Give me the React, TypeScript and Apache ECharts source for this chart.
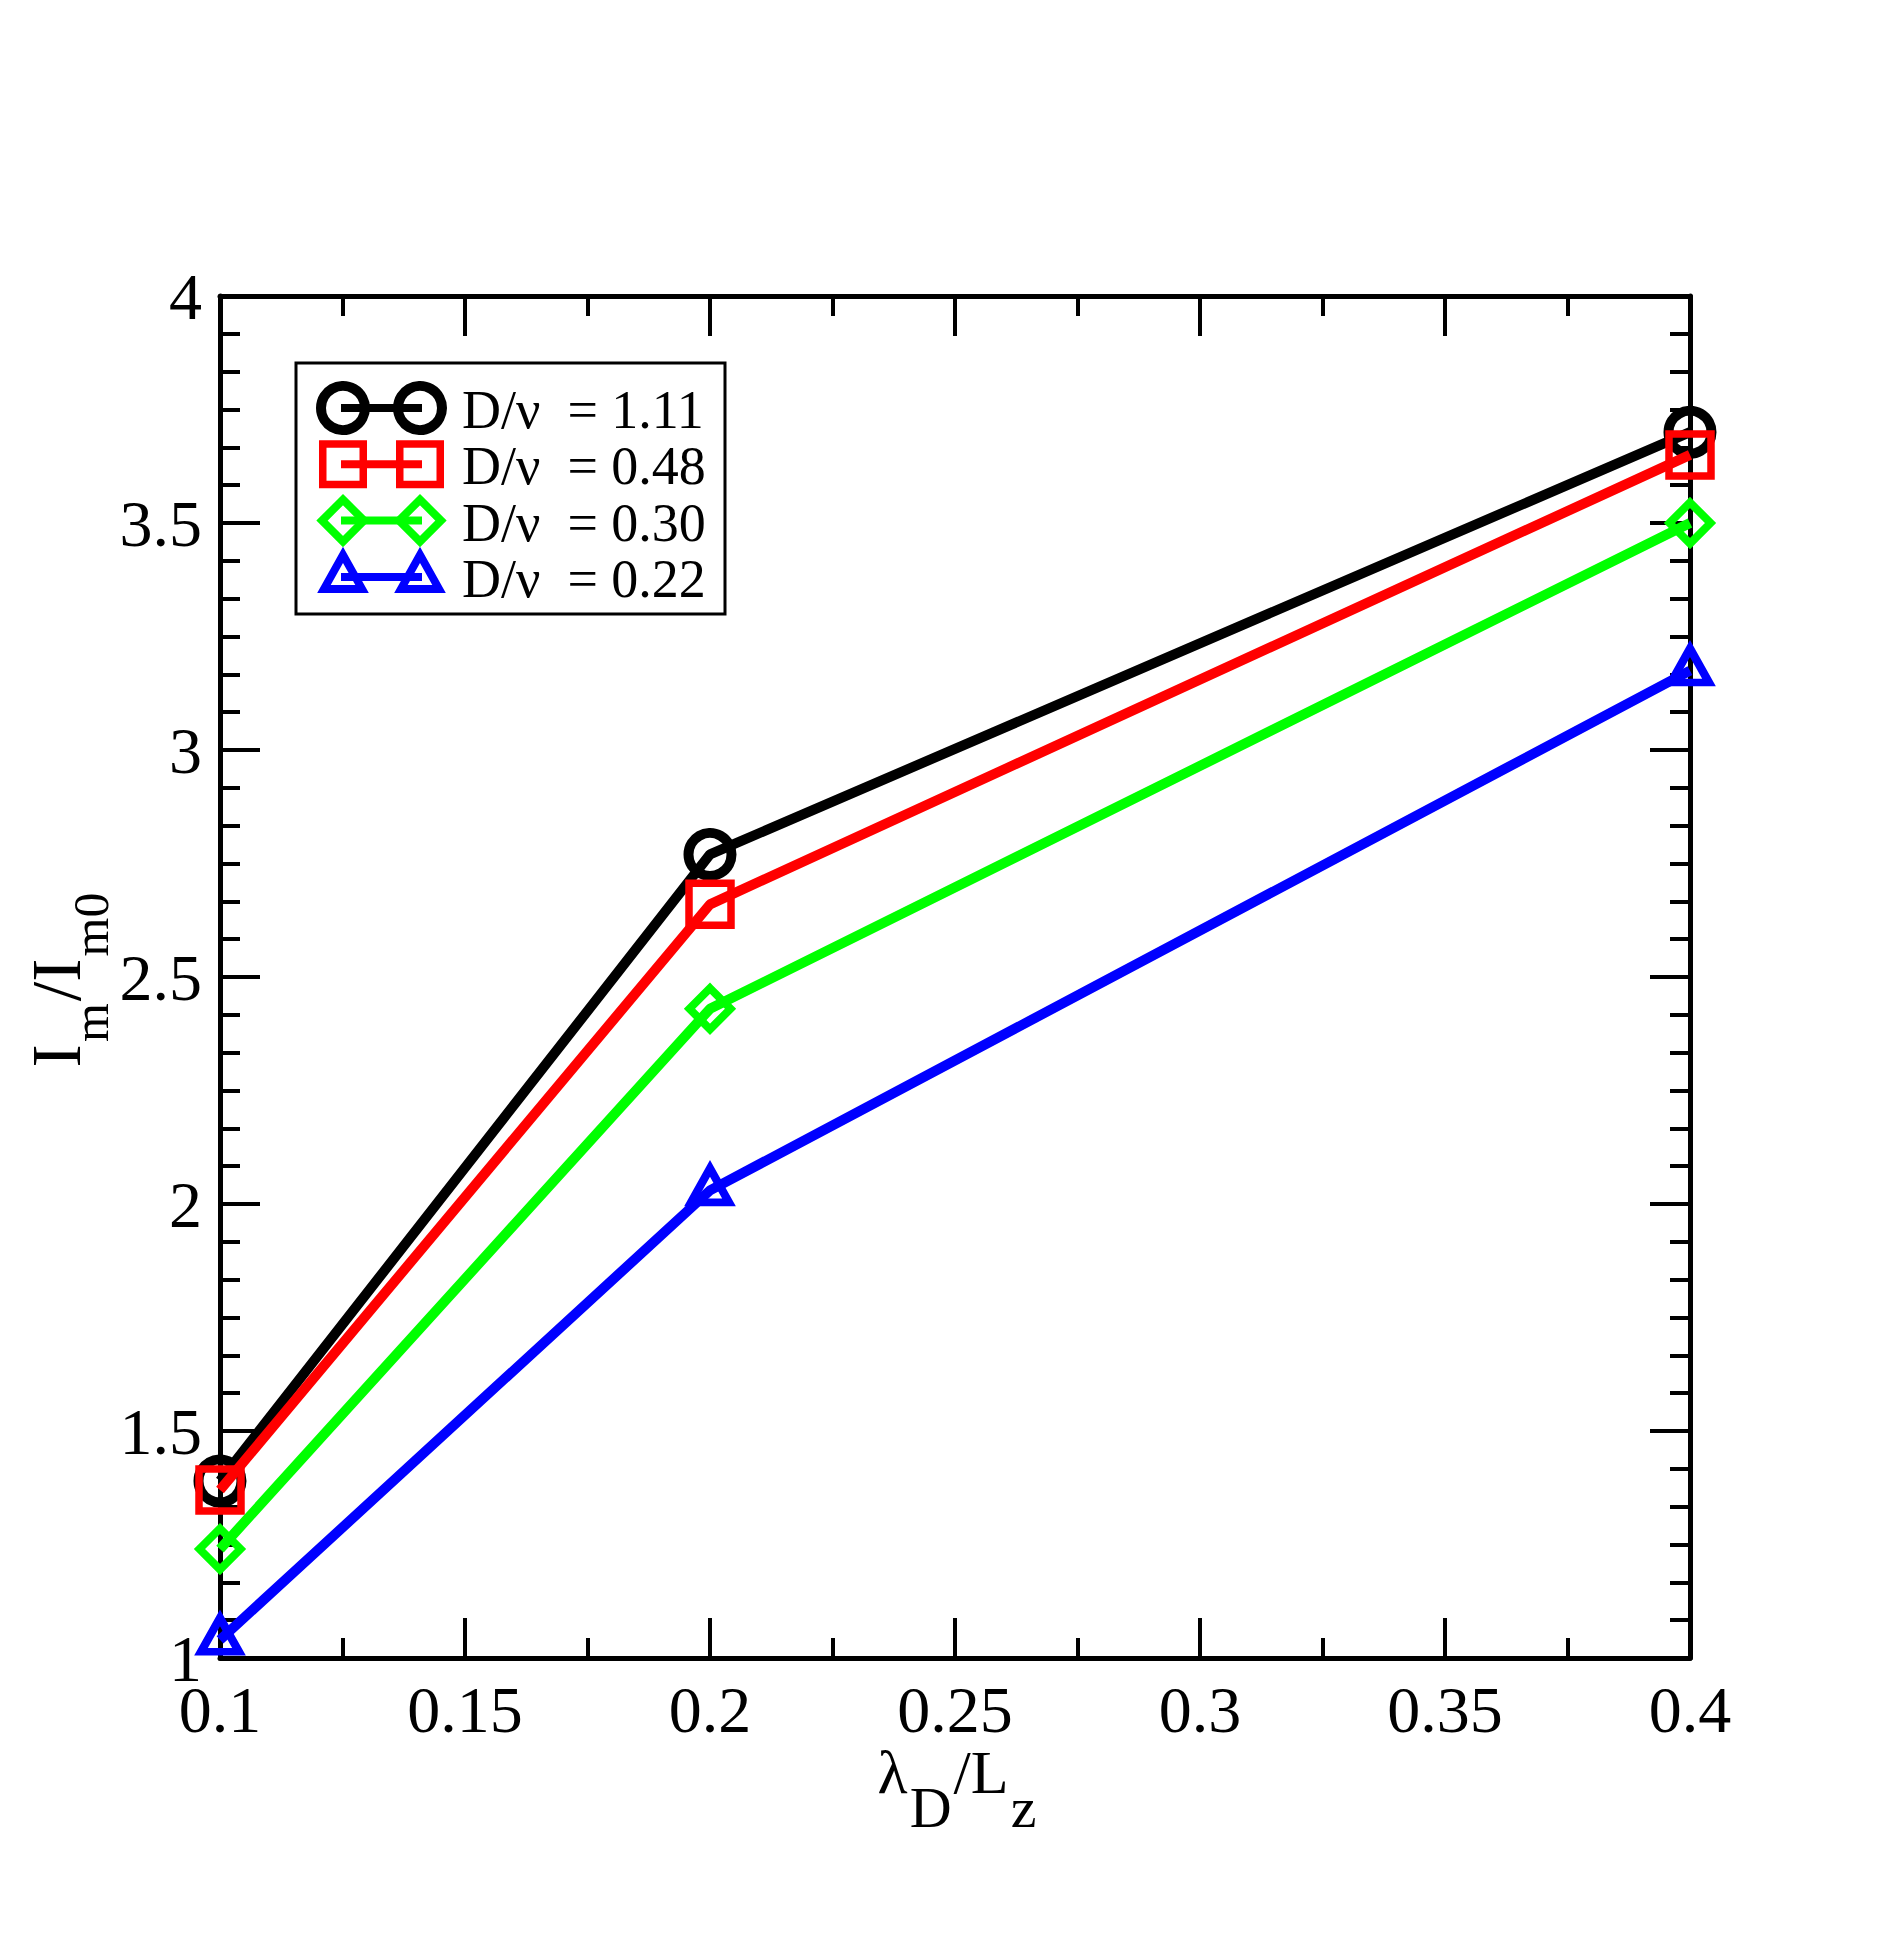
import React, { useEffect, useRef } from 'react';
import * as echarts from 'echarts';

const xValues = [0.1, 0.2, 0.4];
const seriesNames = ['D/ν  = 1.11', 'D/ν  = 0.48', 'D/ν  = 0.30', 'D/ν  = 0.22'];
const blackValues = [1.39, 2.77, 3.7];
const redValues = [1.37, 2.66, 3.65];
const greenValues = [1.24, 2.43, 3.5];
const blueValues = [1.04, 2.03, 3.175];
const xTickLabels = ['0.1', '0.15', '0.2', '0.25', '0.3', '0.35', '0.4'];
const yTickLabels = ['1', '1.5', '2', '2.5', '3', '3.5', '4'];
const xTitleParts = [
  { t: 'λ', sub: false },
  { t: 'D', sub: true },
  { t: '/L', sub: false },
  { t: 'z', sub: true },
];
const yTitleParts = [
  { t: 'I', sub: false },
  { t: 'm', sub: true },
  { t: '/I', sub: false },
  { t: 'm0', sub: true },
];

const X_MIN = 0.1;
const X_MAX = 0.4;
const X_STEP = 0.05;
const Y_MIN = 1;
const Y_MAX = 4;
const Y_STEP = 0.5;

const FONT = "'Liberation Serif', 'Times New Roman', serif";
const COLORS = ['#000000', '#ff0000', '#00ff00', '#0000ff'];
const SYMBOLS = ['circle', 'rect', 'diamond', 'triangle'];
const SYMBOL_SIZES: any[] = [43, 42, 41, [38, 34]];
const SYMBOL_BORDERS = [10, 7.5, 8, 8];
const SYMBOL_OFFSETS: any[] = [[0, 0], [0, 0], [0, 0], [0, -5]];
const CENTRAL = 0.3375; // baseline offset below the em centre, as a fraction of font size
const PART_GAP = 2;

function measure(text: string, fs: number) {
  const c = document.createElement('canvas').getContext('2d');
  if (!c) return text.length * fs * 0.5;
  c.font = `${fs}px 'Liberation Serif'`;
  return c.measureText(text).width;
}

function titleChildren(parts: { t: string; sub: boolean }[], mainFs: number, subFs: number, drop: number) {
  const widths = parts.map((p) => measure(p.t, p.sub ? subFs : mainFs));
  const total = widths.reduce((a, b) => a + b, 0) + PART_GAP * (parts.length - 1);
  let x = -total / 2;
  const subCenter = CENTRAL * mainFs + drop - CENTRAL * subFs;
  return parts.map((p, i) => {
    const el = {
      type: 'text',
      style: {
        text: p.t,
        x,
        y: p.sub ? subCenter : 0,
        fontSize: p.sub ? subFs : mainFs,
        fontFamily: FONT,
        fill: '#000',
        align: 'left',
        verticalAlign: 'middle',
      },
    };
    x += widths[i] + PART_GAP;
    return el;
  });
}

function legendMarker(kind: string, cx: number, cy: number, color: string) {
  const idx = SYMBOLS.indexOf(kind);
  const st = { fill: 'none', stroke: color, lineWidth: SYMBOL_BORDERS[idx], lineJoin: 'miter' };
  if (kind === 'circle') return { type: 'circle', shape: { cx, cy, r: 22 }, style: st, z: 101 };
  if (kind === 'rect')
    return { type: 'rect', shape: { x: cx - 20.25, y: cy - 20.25, width: 40.5, height: 40.5 }, style: st, z: 101 };
  if (kind === 'diamond')
    return {
      type: 'polygon',
      shape: { points: [[cx, cy - 21], [cx + 21, cy], [cx, cy + 21], [cx - 21, cy]] },
      style: st,
      z: 101,
    };
  return {
    type: 'polygon',
    shape: { points: [[cx, cy - 22], [cx + 19, cy + 12], [cx - 19, cy + 12]] },
    style: st,
    z: 101,
  };
}

export default function App() {
  const ref = useRef<HTMLDivElement>(null);
  useEffect(() => {
    if (!ref.current) return;
    const chart = echarts.init(ref.current, null, { renderer: 'svg' });
    const allValues = [blackValues, redValues, greenValues, blueValues];

    const axisCommon = {
      axisLine: { show: true, onZero: false, lineStyle: { color: '#000', width: 5 } },
      axisTick: { show: true, inside: true, length: 40, lineStyle: { color: '#000', width: 4 } },
      splitLine: { show: false },
      minorSplitLine: { show: false },
    };
    const xFmt = (v: number) => xTickLabels[Math.round((v - X_MIN) / X_STEP)] ?? '';
    const yFmt = (v: number) => yTickLabels[Math.round((v - Y_MIN) / Y_STEP)] ?? '';
    const labelStyle = { color: '#000', fontFamily: FONT, fontSize: 66, margin: 18 };

    const xBase = {
      type: 'value',
      min: X_MIN,
      max: X_MAX,
      interval: X_STEP,
      ...axisCommon,
      minorTick: { show: true, splitNumber: 2, length: 20, lineStyle: { color: '#000', width: 4 } },
    };
    const yBase = {
      type: 'value',
      min: Y_MIN,
      max: Y_MAX,
      interval: Y_STEP,
      ...axisCommon,
      minorTick: { show: true, splitNumber: 6, length: 20, lineStyle: { color: '#000', width: 4 } },
    };

    const graphicEls: any[] = [
      {
        type: 'rect',
        shape: { x: 296, y: 363, width: 429, height: 251 },
        style: { fill: '#fff', stroke: '#000', lineWidth: 3 },
        z: 100,
      },
    ];
    seriesNames.forEach((name, i) => {
      const cy = 408 + 56.3 * i;
      graphicEls.push({
        type: 'line',
        shape: { x1: 341, y1: cy, x2: 422, y2: cy },
        style: { stroke: COLORS[i], lineWidth: 8 },
        z: 100,
      });
      graphicEls.push(legendMarker(SYMBOLS[i], 343, cy, COLORS[i]));
      graphicEls.push(legendMarker(SYMBOLS[i], 420, cy, COLORS[i]));
      graphicEls.push({
        type: 'text',
        style: { text: name, x: 462, y: cy + 2, fontSize: 54, fontFamily: FONT, fill: '#000', verticalAlign: 'middle' },
        z: 101,
      });
    });

    graphicEls.push({
      type: 'group',
      x: 957,
      y: 1793 - CENTRAL * 62,
      children: titleChildren(xTitleParts, 62, 58, 34),
      z: 101,
    });
    graphicEls.push({
      type: 'group',
      x: 80 - CENTRAL * 70,
      y: 980,
      rotation: Math.PI / 2,
      children: titleChildren(yTitleParts, 70, 50, 28),
      z: 101,
    });

    const option: any = {
      animation: false,
      backgroundColor: '#ffffff',
      grid: { left: 220, right: 214, top: 296, bottom: 296, outerBoundsMode: 'none', containLabel: false },
      xAxis: [
        { ...xBase, position: 'bottom', axisLabel: { ...labelStyle, formatter: xFmt } },
        { ...xBase, position: 'top', axisLabel: { show: false } },
      ],
      yAxis: [
        { ...yBase, position: 'left', axisLabel: { ...labelStyle, formatter: yFmt } },
        { ...yBase, position: 'right', axisLabel: { show: false } },
      ],
      series: seriesNames.map((name, i) => ({
        type: 'line',
        name,
        xAxisIndex: 0,
        yAxisIndex: 0,
        data: xValues.map((x, j) => [x, allValues[i][j]]),
        symbol: SYMBOLS[i],
        symbolSize: SYMBOL_SIZES[i],
        symbolOffset: SYMBOL_OFFSETS[i],
        showSymbol: true,
        clip: false,
        lineStyle: { color: COLORS[i], width: 10 },
        itemStyle: {
          color: 'rgba(255,255,255,0)',
          borderColor: COLORS[i],
          borderWidth: SYMBOL_BORDERS[i],
          borderJoin: 'miter',
        },
        emphasis: { disabled: true },
        z: 2 + i,
      })),
      graphic: graphicEls,
    };
    chart.setOption(option);
    return () => chart.dispose();
  }, []);
  return (
    <div
      ref={ref}
      style={{ position: 'absolute', left: 0, top: 0, width: 1904, height: 1954, background: '#fff' }}
    />
  );
}
